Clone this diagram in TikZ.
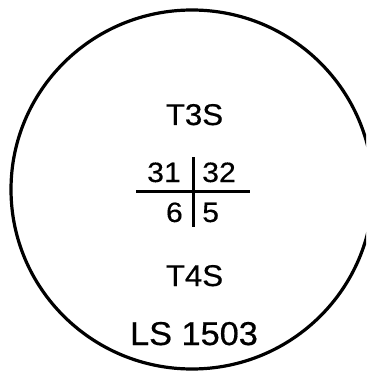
\documentclass[tikz,border=0pt]{standalone}
\usepackage{fontspec}
\setmainfont{Liberation Sans}[FakeStretch=1.04,FakeBold=0.6]
\newfontfamily\numfont{Liberation Sans}[FakeStretch=1.08,FakeBold=0.3]
\begin{document}
\begin{tikzpicture}[x=1pt,y=-1pt,
  lbl/.style={inner sep=0pt, font=\fontsize{30}{30}\selectfont},
  num/.style={inner sep=0pt, font=\numfont\fontsize{28}{28}\selectfont},
  big/.style={inner sep=0pt, font=\fontsize{33}{33}\selectfont},
  rule/.style={line width=3.3pt}]
\useasboundingbox (0,0) rectangle (366,374);
\clip (0,0) rectangle (366,374);
\draw[line width=3.2pt] (192,189.5) ellipse [x radius=181, y radius=179.5];
\coordinate (hl) at (136,191.5);
\coordinate (hr) at (250,191.5);
\coordinate (vt) at (193.5,157);
\coordinate (vb) at (193.5,227);
\draw[rule] (hl) -- (hr);
\draw[rule] (vt) -- (vb);
\node[lbl, anchor=base] (t3s) at (194.5,125) {T3S};
\node[num, anchor=base east] (n31) at (181,182) {31};
\node[num, anchor=base west] (n32) at (202,182) {32};
\node[num, anchor=base east] (n6) at (183,222) {6};
\node[num, anchor=base west] (n5) at (202,222) {5};
\node[lbl, anchor=base] (t4s) at (194.5,286) {T4S};
\node[big, anchor=base] (ls) at (194,345) {LS 1503};
\end{tikzpicture}
\end{document}
